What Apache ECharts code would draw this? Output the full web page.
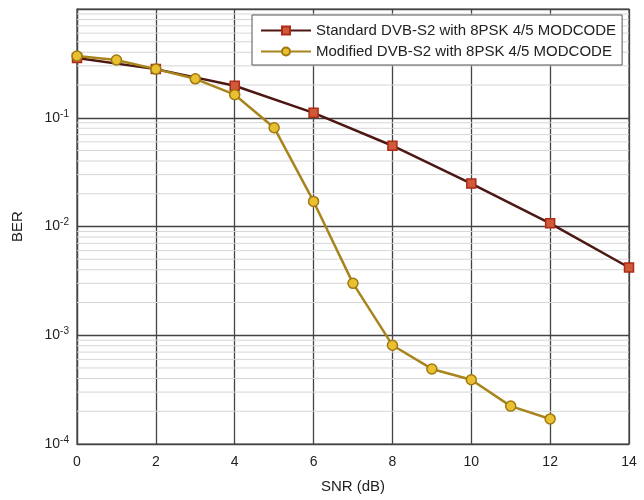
<!DOCTYPE html>
<html>
<head>
<meta charset="utf-8">
<script src="https://cdn.jsdelivr.net/npm/echarts@6/dist/echarts.min.js"></script>
<style>html,body{margin:0;padding:0;background:#fff;}#c{width:644px;height:500px;}</style>
</head>
<body>
<div id="c"></div>
<script>
var standardX = [0,2,4,6,8,10,12,14];
var standardBER = [0.355,0.28,0.197,0.111,0.0553,0.0248,0.0107,0.0042];
var modifiedX = [0,1,2,3,4,5,6,7,8,9,10,11,12];
var modifiedBER = [0.37,0.34,0.28,0.228,0.163,0.081,0.017,0.0030,0.00081,0.00049,0.00039,0.000223,0.00017];
var xTicks = [0,2,4,6,8,10,12,14];
var decades = [1e-4,1e-3,1e-2,1e-1];
var minorMultipliers = [2,3,4,5,6,7,8,9];
var minorY = [];
decades.forEach(function(d){ minorMultipliers.forEach(function(k){ minorY.push(+(d*k).toPrecision(3)); }); });
var seriesNames = ['Standard DVB-S2 with 8PSK 4/5 MODCODE','Modified DVB-S2 with 8PSK 4/5 MODCODE'];

function pairs(xs, ys){ return xs.map(function(x,i){ return [x, ys[i]]; }); }

var chart = echarts.init(document.getElementById('c'));
var font = 'Liberation Sans, Arial, sans-serif';
chart.setOption({
  animation: false,
  backgroundColor: '#fff',
  textStyle: { fontFamily: font },
  grid: { left: 77, right: 15, top: 9, bottom: 56, show: true, borderColor: '#444', borderWidth: 1.2 },
  legend: {
    orient: 'vertical', left: 252, top: 15, itemWidth: 50, itemHeight: 10, itemGap: 6,
    backgroundColor: '#fff', borderColor: '#555', borderWidth: 1, borderRadius: 0,
    padding: [8, 6, 6, 8],
    textStyle: { fontSize: 15, color: '#222', fontFamily: font },
    data: seriesNames
  },
  xAxis: {
    type: 'value', min: 0, max: 14, interval: 2,
    name: 'SNR (dB)', nameLocation: 'middle', nameGap: 35,
    nameTextStyle: { fontSize: 15, color: '#222' },
    axisLine: { lineStyle: { color: '#444', width: 1.2 } },
    axisTick: { show: false },
    axisLabel: { fontSize: 14, color: '#222', margin: 11 },
    splitLine: { show: true, lineStyle: { color: '#444', width: 1.3 } }
  },
  yAxis: {
    type: 'log', logBase: 10, min: 1e-4, max: 1,
    name: 'BER', nameLocation: 'middle', nameGap: 52, nameRotate: 90,
    nameTextStyle: { fontSize: 15, color: '#222' },
    axisLine: { lineStyle: { color: '#444', width: 1.2 } },
    axisTick: { show: false },
    axisLabel: {
      color: '#222', margin: 8, showMaxLabel: false,
      formatter: function(v){ var e = Math.round(Math.log10(v)); return '{b|10}{s|' + e + '}'; },
      rich: { b: { fontSize: 14, color: '#222' }, s: { fontSize: 10, color: '#222', padding: [0,0,8,0] } }
    },
    splitLine: { show: true, lineStyle: { color: '#444', width: 1.3 } }
  },
  series: [
    {
      name: 'minor', type: 'custom', silent: true, z: 1,
      data: minorY.map(function(v){ return [v]; }),
      encode: { y: 0 },
      renderItem: function(params, api){
        var v = api.value(0);
        var p1 = api.coord([0, v]);
        var p2 = api.coord([14, v]);
        return { type: 'line', shape: { x1: p1[0], y1: p1[1], x2: p2[0], y2: p2[1] },
                 style: { stroke: '#d6d6d6', lineWidth: 1 } };
      }
    },
    {
      name: seriesNames[0], type: 'line', data: pairs(standardX, standardBER),
      symbol: 'rect', symbolSize: 9,
      lineStyle: { color: '#4e1812', width: 2.5 },
      itemStyle: { color: '#cf5a3a', borderColor: '#b02a18', borderWidth: 1.5 },
      z: 3
    },
    {
      name: seriesNames[1], type: 'line', data: pairs(modifiedX, modifiedBER),
      symbol: 'circle', symbolSize: 10,
      lineStyle: { color: '#a8841c', width: 2.5 },
      itemStyle: { color: '#e8c030', borderColor: '#a07810', borderWidth: 1.5 },
      z: 4
    }
  ]
});
</script>
</body>
</html>
